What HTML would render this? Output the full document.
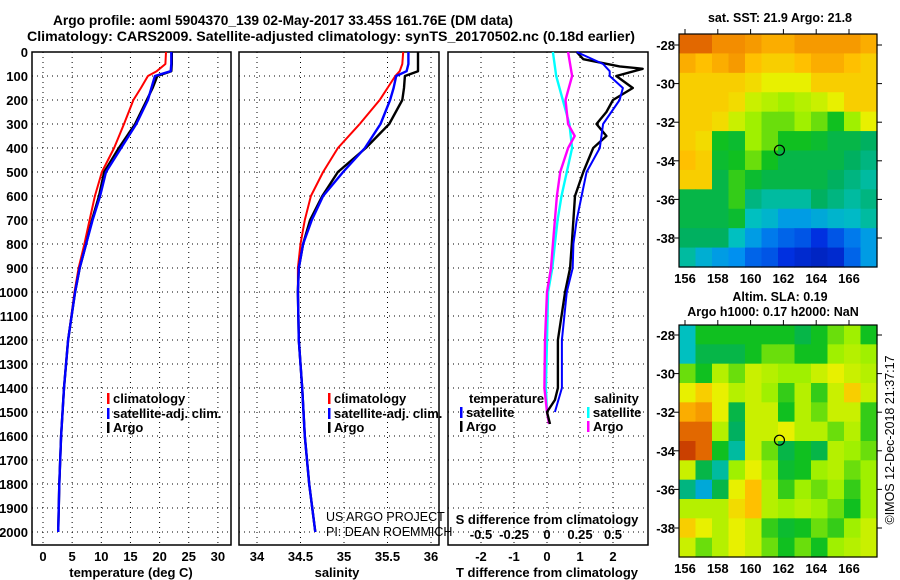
<!DOCTYPE html>
<html><head><meta charset="utf-8">
<style>
html,body{margin:0;padding:0;background:#fff;}
svg{display:block;font-family:"Liberation Sans",sans-serif;}
.b{font-weight:bold;}
</style></head>
<body>
<svg id="fig" width="900" height="580" viewBox="0 0 900 580" xmlns="http://www.w3.org/2000/svg">
<text x="53" y="25" textLength="460" lengthAdjust="spacingAndGlyphs" class="b" font-size="14">Argo profile: aoml 5904370_139 02-May-2017 33.45S 161.76E (DM data)</text>
<text x="27" y="41" textLength="608" lengthAdjust="spacingAndGlyphs" class="b" font-size="14">Climatology: CARS2009. Satellite-adjusted climatology: synTS_20170502.nc (0.18d earlier)</text>
<g id="g"></g>
</svg>
<script>
// depth levels (dbar)
const depth = [0,50,80,100,150,200,300,400,500,600,700,800,900,1000,1200,1400,1600,1800,2000];
const tArgo = [22.1,22.1,22.0,19.6,18.8,17.8,15.8,13.0,10.5,9.6,8.4,7.4,6.3,5.5,4.3,3.6,3.1,2.8,2.6];
const tClim = [21.1,21.0,19.5,18.0,16.8,15.5,13.9,12.2,10.1,8.9,8.0,7.1,6.1,5.4,4.3,3.6,3.1,2.8,2.6];
const tSat  = [22.0,22.0,21.9,19.2,18.6,18.0,16.0,13.4,10.8,9.8,8.5,7.4,6.3,5.5,4.3,3.6,3.1,2.8,2.6];
const sArgo = [35.85,35.85,35.85,35.70,35.69,35.67,35.52,35.25,34.93,34.75,34.61,34.53,34.48,34.47,34.48,34.52,34.55,34.60,34.67];
const sClim = [35.68,35.67,35.64,35.59,35.50,35.41,35.18,34.93,34.76,34.62,34.55,34.50,34.47,34.47,34.48,34.52,34.55,34.60,34.67];
const sSat  = [35.74,35.74,35.72,35.60,35.57,35.53,35.42,35.24,34.99,34.76,34.63,34.53,34.48,34.47,34.48,34.52,34.55,34.60,34.67];
// difference panel
const dDepth = [0,30,60,70,100,150,200,250,300,350,400,500,600,700,800,900,1000,1200,1400,1450,1500,1550];
const dtArgo = [0.9,1.1,2.2,2.9,2.1,2.6,2.0,1.8,1.5,1.8,1.4,1.1,0.85,0.8,0.75,0.7,0.55,0.33,0.33,0.24,0.0,0.09];
const dsDepth = [0,100,200,300,350,400,500,600,700,800,900,1000,1200,1400,1500,1550];
const dsArgo = [0.16,0.19,0.14,0.16,0.21,0.16,0.10,0.075,0.06,0.045,0.03,0.0,-0.015,-0.02,0.0,0.015];
const dtSatDepth = [0,50,80,100,150,200,300,400,500,600,700,800,900,1000,1200,1400,1500];
const dtSat = [0.9,1.7,1.9,1.9,2.3,2.2,1.7,1.6,1.2,1.05,0.9,0.8,0.78,0.6,0.45,0.45,0.24];
const dsSatDepth = [0,100,200,300,400,500,600,700,800,900,1000,1200,1400,1500];
const dsSat = [0.045,0.07,0.12,0.17,0.19,0.15,0.11,0.08,0.06,0.04,0.008,0.0,-0.008,0.0];
const depthTicks = [0,100,200,300,400,500,600,700,800,900,1000,1100,1200,1300,1400,1500,1600,1700,1800,1900,2000];
const tTicks = [0,5,10,15,20,25,30];
const sTicks = [34,34.5,35,35.5,36];
const sTickLabels = ["34","34.5","35","35.5","36"];
const dtTicks = [-2,-1,0,1,2];
const dsTicks = [-0.5,-0.25,0,0.25,0.5];
const dsTickLabels = ["-0.5","-0.25","0","0.25","0.5"];
// maps
const lonTicks = [156,158,160,162,164,166];
const latTicks = [-28,-30,-32,-34,-36,-38];
const sstGrid = [
[.85,.85,.8,.8,.78,.75,.75,.78,.78,.78,.78,.75],
[.75,.72,.75,.78,.72,.7,.7,.72,.75,.75,.72,.7],
[.7,.7,.7,.7,.68,.65,.65,.65,.7,.7,.7,.7],
[.7,.7,.7,.68,.62,.6,.58,.6,.62,.65,.7,.7],
[.7,.7,.68,.62,.58,.55,.55,.58,.55,.5,.58,.65],
[.7,.68,.5,.48,.58,.55,.5,.5,.48,.45,.45,.42],
[.72,.7,.48,.5,.55,.5,.45,.45,.45,.45,.42,.4],
[.7,.7,.45,.52,.48,.45,.45,.45,.45,.42,.4,.38],
[.45,.45,.45,.52,.4,.38,.38,.38,.42,.4,.38,.4],
[.45,.45,.45,.48,.36,.34,.3,.3,.32,.34,.35,.38],
[.42,.42,.42,.36,.3,.25,.22,.2,.15,.2,.25,.3],
[.38,.33,.3,.28,.22,.2,.15,.12,.1,.12,.22,.3]];
const slaGrid = [
[.36,.5,.5,.5,.5,.5,.5,.45,.5,.55,.58,.5],
[.36,.45,.45,.45,.5,.55,.55,.5,.5,.58,.6,.58],
[.55,.5,.6,.55,.62,.6,.58,.58,.62,.65,.62,.6],
[.65,.7,.65,.6,.62,.58,.52,.6,.52,.62,.7,.62],
[.75,.78,.65,.45,.62,.62,.5,.6,.55,.62,.62,.52],
[.85,.85,.6,.42,.62,.62,.65,.6,.6,.55,.6,.52],
[.9,.85,.5,.38,.62,.55,.45,.5,.45,.6,.58,.55],
[.62,.45,.38,.58,.65,.58,.48,.5,.58,.6,.55,.58],
[.4,.32,.45,.65,.72,.6,.52,.58,.55,.58,.52,.58],
[.6,.6,.6,.68,.72,.6,.58,.6,.58,.55,.5,.58],
[.7,.65,.6,.65,.62,.52,.48,.5,.55,.52,.58,.62],
[.62,.55,.6,.65,.62,.55,.5,.55,.5,.58,.6,.62]];
const argoLon = 161.76, argoLat = -33.45;

const NS="http://www.w3.org/2000/svg";
const G=document.getElementById('g');
function mk(tag,attrs,parent){const e=document.createElementNS(NS,tag);for(const k in attrs)e.setAttribute(k,attrs[k]);(parent||G).appendChild(e);return e;}
function txt(x,y,s,size,anchor,bold,parent){const e=mk('text',{x:x,y:y,'font-size':size,'text-anchor':anchor||'middle'},parent);if(bold)e.setAttribute('font-weight','bold');e.textContent=s;return e;}

const yD = d => 52 + d*0.24;
const PT=52, PB=545;
const xT = t => 43 + t*5.83;
const xS = s => 257 + (s-34)*87;
const xDT = v => 547 + v*33;
const xDS = v => 547 + v*132;

function panel(x0,x1,name){
  const r=mk('rect',{x:x0,y:PT,width:x1-x0,height:PB-PT,fill:'none',stroke:'#000','stroke-width':1.5});
  
  
  for(const d of depthTicks){ if(d===0) continue;
    const l=mk('line',{x1:x0,x2:x1,y1:yD(d),y2:yD(d),stroke:'#000','stroke-width':1,'stroke-dasharray':'1,4'});
    
    
  }
}
function vgrid(xs,name){
  for(const x of xs){
    const l=mk('line',{x1:x,x2:x,y1:PT,y2:PB,stroke:'#000','stroke-width':1,'stroke-dasharray':'1,4'});
    
    
  }
}
function line(ds,vs,xf,color,w,name){
  const pts=ds.map((d,i)=>xf(vs[i]).toFixed(1)+','+yD(d).toFixed(1)).join(' ');
  const p=mk('polyline',{points:pts,fill:'none',stroke:color,'stroke-width':w,'stroke-linejoin':'round'});
  
  
}
vgrid(tTicks.map(xT),'temp-gridline');
panel(32,231,'temperature-panel');
vgrid(sTicks.map(xS),'sal-gridline');
panel(239,439,'salinity-panel');
vgrid(dtTicks.map(xDT),'tdiff-gridline');
panel(448,648,'difference-panel');
for(const d of depthTicks){const t=txt(28,yD(d)+5,String(d),13,'end',true);}
tTicks.forEach(t=>{const e=txt(xT(t),561,String(t),13,'middle',true);});
sTicks.forEach((s,i)=>{const e=txt(xS(s),561,sTickLabels[i],13,'middle',true);});
dtTicks.forEach(v=>{const e=txt(xDT(v),561,String(v),13,'middle',true);});
dsTicks.forEach((v,i)=>{const e=txt(xDS(v),539,dsTickLabels[i],13,'middle',true);});
let e;
e=txt(131,577,'temperature (deg C)',13,'middle',true);
e=txt(337,577,'salinity',13,'middle',true);
e=txt(547,577,'T difference from climatology',13,'middle',true);
e=txt(547,524,'S difference from climatology',13,'middle',true);
e=txt(326,521,'US ARGO PROJECT',12.5,'start',false);
e=txt(326,536,'PI: DEAN ROEMMICH',12.5,'start',false);

line(depth,tClim,xT,'#ff0000',2,'temp-climatology-line');
line(depth,tArgo,xT,'#000',2.4,'temp-argo-line');
line(depth,tSat,xT,'#0000ff',2.4,'temp-satellite-line');
line(depth,sClim,xS,'#ff0000',2,'sal-climatology-line');
line(depth,sArgo,xS,'#000',2.4,'sal-argo-line');
line(depth,sSat,xS,'#0000ff',2.4,'sal-satellite-line');
line(dsSatDepth,dsSat,xDS,'#00ffff',2.4,'sdiff-satellite-line');
line(dsDepth,dsArgo,xDS,'#ff00ff',2.4,'sdiff-argo-line');
line(dDepth,dtArgo,xDT,'#000',2.4,'tdiff-argo-line');
line(dtSatDepth,dtSat,xDT,'#0000ff',2,'tdiff-satellite-line');

function legend(x,y,color,label,name){
  const g=mk('g',{});
  
  
  mk('rect',{x:x,y:y-10,width:2.5,height:11,fill:color},g);
  txt(x+6,y,label,13,'start',true,g);
}
legend(107,403,'#ff0000','climatology','legend-climatology');
legend(107,418,'#0000ff','satellite-adj. clim.','legend-satellite-adj');
legend(107,432,'#000','Argo','legend-argo');
legend(328,403,'#ff0000','climatology','legend-sal-climatology');
legend(328,418,'#0000ff','satellite-adj. clim.','legend-sal-satellite-adj');
legend(328,432,'#000','Argo','legend-sal-argo');
e=txt(469,403,'temperature',13,'start',true);
legend(460,417,'#0000ff','satellite','legend-tdiff-satellite');
legend(460,431,'#000','Argo','legend-tdiff-argo');
e=txt(594,403,'salinity',13,'start',true);
legend(587,417,'#00ffff','satellite','legend-sdiff-satellite');
legend(587,431,'#ff00ff','Argo','legend-sdiff-argo');

const stops=[[0,[0,16,138]],[.15,[0,48,224]],[.28,[0,144,240]],[.36,[0,192,192]],[.42,[0,176,96]],[.5,[16,192,32]],[.58,[160,240,0]],[.65,[232,240,0]],[.72,[255,192,0]],[.82,[240,128,0]],[.92,[192,48,0]],[1,[160,0,0]]];
function cmap(v){for(let i=1;i<stops.length;i++){if(v<=stops[i][0]){const a=stops[i-1],b=stops[i],f=(v-a[0])/(b[0]-a[0]);const c=a[1].map((x,k)=>Math.round(x+(b[1][k]-x)*f));return 'rgb('+c.join(',')+')';}}return 'rgb(160,0,0)';}

function map(top,bot,lat28,lat38,grid,name,label1,label2){
  const L=679,R=877,lon=v=>685+(v-156)*16.4, lat=v=>lat28+(-28-v)*(lat38-lat28)/10;
  const g=mk('g',{});
  
  
  const rows=grid.length,cols=grid[0].length,cw=(R-L)/cols,ch=(bot-top)/rows;
  grid.forEach((row,r)=>row.forEach((v,c)=>{
    const cell=mk('rect',{x:(L+c*cw).toFixed(2),y:(top+r*ch).toFixed(2),width:(cw+0.6).toFixed(2),height:(ch+0.6).toFixed(2),fill:cmap(v)},g);
    
    
  }));
  mk('rect',{x:L,y:top,width:R-L,height:bot-top,fill:'none',stroke:'#000','stroke-width':1.2},g);
  lonTicks.forEach(v=>{mk('line',{x1:lon(v),x2:lon(v),y1:top,y2:top-5,stroke:'#000'},g);txt(lon(v),bot+16,String(v),13,'middle',true,g);});
  latTicks.forEach(v=>{mk('line',{x1:L,x2:L-5,y1:lat(v),y2:lat(v),stroke:'#000'},g);mk('line',{x1:R,x2:R+5,y1:lat(v),y2:lat(v),stroke:'#000'},g);txt(L-4,lat(v)+5,String(v),13,'end',true,g);});
  const c=mk('circle',{cx:lon(argoLon),cy:lat(argoLat),r:5,fill:'none',stroke:'#000','stroke-width':1.2},g);
  
  
  txt(780,top-(label2?24:12),label1,12.5,'middle',true,g);
  if(label2) txt(773,top-9,label2,12.5,'middle',true,g);
}
map(34,267,45,238,sstGrid,'sst-map','sat. SST: 21.9 Argo: 21.8');
map(325,557,335,528,slaGrid,'sla-map','Altim. SLA: 0.19','Argo h1000: 0.17 h2000: NaN');
e=txt(0,0,'©IMOS 12-Dec-2018 21:37:17',12.5,'middle',false);
e.setAttribute('transform','translate(894,440) rotate(-90)');


</script>
</body></html>
